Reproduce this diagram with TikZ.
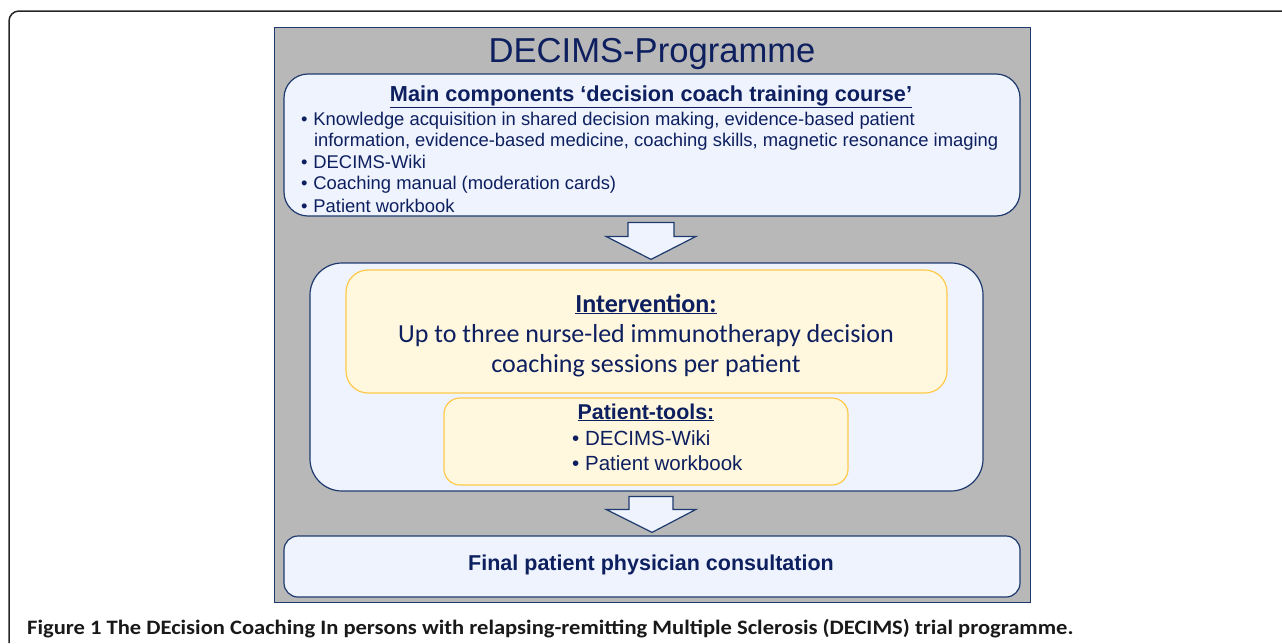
\documentclass[tikz,border=0pt]{standalone}
\usepackage{fontspec}
\setmainfont{Liberation Sans}
\newfontfamily\calfont{Carlito}
\newfontfamily\capfont[FakeStretch=1.1]{Carlito}
\usetikzlibrary{calc}
\definecolor{panelgray}{HTML}{B8B8B8}
\definecolor{navy}{HTML}{1F3A6E}
\definecolor{txtnavy}{HTML}{0D1F5E}
\definecolor{lightblue}{HTML}{EEF3FE}
\definecolor{lightyellow}{HTML}{FFF7DE}
\definecolor{gold}{HTML}{FFCA4A}
\tikzset{
  bluebox/.style={draw=navy, fill=lightblue, line width=1.2pt, rectangle},
  yellowbox/.style={draw=gold, fill=lightyellow, line width=1.2pt, rectangle},
  blockarrow/.style={draw=navy, fill=lightblue, line width=1.2pt, line join=miter},
  txt/.style={text=txtnavy, inner sep=0pt, outer sep=0pt},
  bultxt/.style={txt, anchor=base west, font=\fontsize{18.4}{21}\selectfont},
}
\begin{document}
\begin{tikzpicture}[x=1pt,y=-1pt]
\useasboundingbox (0,0) rectangle (1282,643);
% outer frame
\draw[line width=1.5pt, draw=black!85, rounded corners=10pt] (9,643) -- (9,11) -- (1282,11);
% gray panel
\node[draw=navy, fill=panelgray, line width=0.8pt, minimum width=756pt, minimum height=575pt, inner sep=0pt] (panel) at (652,314.5) {};
\node[txt, anchor=base, font=\fontsize{34.6}{38}\selectfont] (title) at (652,62) {DECIMS-Programme};
% box 1
\node[bluebox, rounded corners=24pt, minimum width=736pt, minimum height=142pt] (box1) at (652,145) {};
\node[txt, anchor=base, font=\bfseries\fontsize{21.7}{24}\selectfont] (head1) at (651,101) {\underline{Main components ‘decision coach training course’}};
\node[bultxt] (b1) at (301,125) {•\hspace{6pt}Knowledge acquisition in shared decision making, evidence-based patient};
\node[bultxt] (b1b) at (314,146) {information, evidence-based medicine, coaching skills, magnetic resonance imaging};
\node[bultxt] (b2) at (301,168) {•\hspace{6pt}DECIMS-Wiki};
\node[bultxt] (b3) at (301,189) {•\hspace{6pt}Coaching manual (moderation cards)};
\node[bultxt] (b4) at (301,212) {•\hspace{6pt}Patient workbook};
% box 2
\node[bluebox, rounded corners=32pt, minimum width=673pt, minimum height=228pt] (box2) at (646.5,377) {};
\node[yellowbox, rounded corners=22pt, minimum width=601pt, minimum height=123pt] (yel1) at (646.5,331.5) {};
\node[txt, anchor=base, font=\calfont\bfseries\fontsize{26}{29}\selectfont] (inter) at (646,312) {\underline{Intervention:}};
\node[txt, anchor=base, font=\calfont\fontsize{26}{29}\selectfont] (inter2) at (646,342) {Up to three nurse-led immunotherapy decision};
\node[txt, anchor=base, font=\calfont\fontsize{26}{29}\selectfont] (inter3) at (646,372) {coaching sessions per patient};
\node[yellowbox, rounded corners=16pt, minimum width=404pt, minimum height=87pt] (yel2) at (646,441.5) {};
\node[txt, anchor=base, font=\bfseries\fontsize{21.4}{24}\selectfont] (tools) at (646,419) {\underline{Patient-tools:}};
\node[txt, anchor=base west, font=\fontsize{20.5}{24}\selectfont] (t1) at (572,445) {•\hspace{6pt}DECIMS-Wiki};
\node[txt, anchor=base west, font=\fontsize{20.5}{24}\selectfont] (t2) at (572,470) {•\hspace{6pt}Patient workbook};
% box 3
\node[bluebox, rounded corners=14pt, minimum width=736pt, minimum height=61pt] (box3) at (652,566.5) {};
\node[txt, anchor=base, font=\bfseries\fontsize{21.5}{24}\selectfont] (final) at (651,570) {Final patient physician consultation};
% block arrows
\coordinate (a1) at ($(box2.north)+(4.5,-3)$);
\draw[blockarrow] (a1) -- ++(-45,-23) -- ++(22,0) -- ++(0,-14) -- ++(46,0) -- ++(0,14) -- ++(22,0) -- cycle;
\coordinate (a2) at ($(box3.north)+(0,-3)$);
\draw[blockarrow] (a2) -- ++(-46,-23) -- ++(23,0) -- ++(0,-13) -- ++(44,0) -- ++(0,13) -- ++(23,0) -- cycle;
% caption
\node[anchor=base west, inner sep=0pt, text=black!90, font=\capfont\bfseries\fontsize{20.5}{24}\selectfont] (cap) at (27,634) {Figure 1 The DEcision Coaching In persons with relapsing-remitting Multiple Sclerosis (DECIMS) trial programme.};
\end{tikzpicture}
\end{document}
